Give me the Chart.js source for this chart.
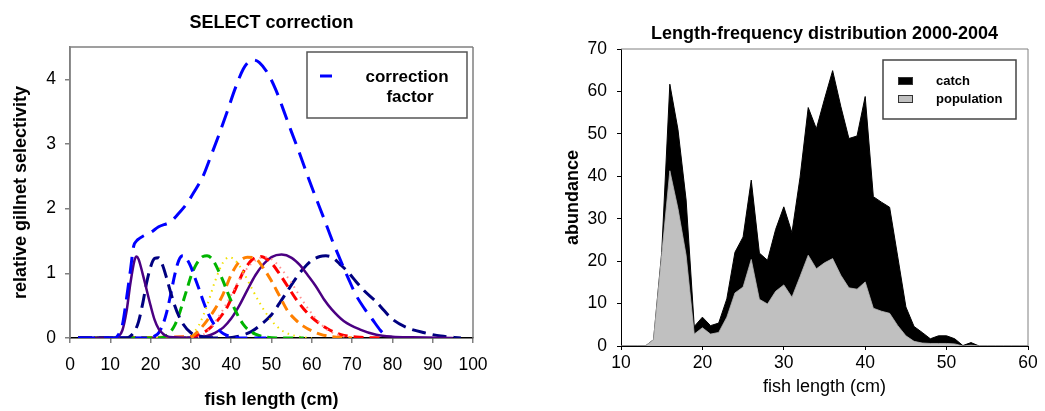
<!DOCTYPE html>
<html>
<head>
<meta charset="utf-8">
<script src="https://cdn.jsdelivr.net/npm/chart.js@4.4.0/dist/chart.umd.min.js"></script>
<style>
  html, body { margin: 0; padding: 0; background: #fff; }
  #wrap { position: relative; width: 1045px; height: 411px; }
  #selectChart { position: absolute; left: 0; top: 0; }
  #lengthChart { position: absolute; left: 520px; top: 0; }
</style>
</head>
<body>
<div id="wrap">
  <canvas id="selectChart" width="520" height="411"></canvas>
  <canvas id="lengthChart" width="525" height="411"></canvas>
</div>
<script>
// ---- left panel: selectivity curves ----
const corrLen = [2, 11, 12, 13, 14, 15, 15.8, 16.5, 17, 18, 20, 22, 25, 27, 29, 31, 33, 35, 37, 39, 41, 43, 44.5, 45.5, 47, 49, 51, 53, 55, 57, 59, 61, 63, 65, 67, 69, 71, 73, 75, 77, 78.8];
const corrVal = [0, 0, 0.05, 0.2, 0.6, 1.05, 1.42, 1.5, 1.53, 1.57, 1.63, 1.72, 1.8, 1.93, 2.08, 2.28, 2.5, 2.82, 3.15, 3.5, 3.86, 4.16, 4.28, 4.3, 4.26, 4.1, 3.85, 3.52, 3.18, 2.85, 2.5, 2.17, 1.85, 1.52, 1.22, 0.93, 0.66, 0.46, 0.29, 0.12, 0];

const purpleALen = [2, 11, 12, 13, 14, 15, 16, 16.5, 17, 18, 19, 20, 21, 22, 23, 24, 26, 30];
const purpleAVal = [0, 0, 0.02, 0.12, 0.4, 0.85, 1.2, 1.26, 1.22, 1.0, 0.75, 0.5, 0.28, 0.14, 0.07, 0.03, 0.01, 0];

const navyALen = [2, 14, 15, 16, 17, 18, 19, 20, 21, 22, 23, 24, 25, 26, 27, 28, 30, 33, 36];
const navyAVal = [0, 0, 0.03, 0.1, 0.25, 0.52, 0.85, 1.1, 1.23, 1.24, 1.12, 0.92, 0.7, 0.5, 0.34, 0.22, 0.08, 0.02, 0];

const blueLen = [2, 20, 21, 22, 23, 24, 25, 26, 27, 28, 29, 30, 31, 32, 33, 34, 35, 36, 37, 38, 40, 44, 49];
const blueVal = [0, 0, 0.03, 0.08, 0.2, 0.4, 0.68, 0.98, 1.2, 1.27, 1.22, 1.1, 0.93, 0.76, 0.58, 0.42, 0.29, 0.19, 0.12, 0.07, 0.02, 0, 0];

const greenLen = [2, 22, 24, 25, 26, 27, 28, 29, 30, 31, 32, 33, 34, 35, 36, 37, 38, 39, 40, 41, 42, 43, 44, 46, 48, 52, 58];
const greenVal = [0, 0, 0.04, 0.1, 0.2, 0.35, 0.55, 0.75, 0.95, 1.1, 1.2, 1.26, 1.27, 1.24, 1.15, 1.02, 0.88, 0.72, 0.57, 0.43, 0.31, 0.21, 0.14, 0.06, 0.02, 0, 0];

const yellowLen = [2, 28, 30, 32, 34, 36, 38, 39.5, 41, 43, 45, 47, 49, 51, 53, 56, 60];
const yellowVal = [0, 0, 0.05, 0.2, 0.5, 0.88, 1.17, 1.25, 1.2, 1.02, 0.78, 0.55, 0.35, 0.2, 0.1, 0.03, 0];

const orangeLen = [2, 30, 32, 34, 36, 38, 40, 42, 44, 46, 48, 50, 52, 54, 56, 58, 60, 62, 65, 70];
const orangeVal = [0, 0.02, 0.12, 0.27, 0.45, 0.68, 0.98, 1.18, 1.25, 1.23, 1.08, 0.88, 0.65, 0.42, 0.28, 0.18, 0.11, 0.06, 0.02, 0];

const pinkLen = [2, 30, 33, 36, 39, 42, 45, 48, 50, 52, 55, 58, 61, 64, 67, 70];
const pinkVal = [0, 0, 0.05, 0.25, 0.55, 0.9, 1.15, 1.25, 1.22, 1.1, 0.85, 0.55, 0.3, 0.12, 0.04, 0];

const redLen = [2, 30, 33, 35, 37, 39, 41, 43, 45, 47, 48, 50, 52, 54, 56, 58, 60, 62, 64, 66, 68, 72, 78];
const redVal = [0, 0.02, 0.08, 0.17, 0.3, 0.48, 0.75, 1.02, 1.2, 1.26, 1.25, 1.16, 0.99, 0.8, 0.61, 0.45, 0.32, 0.22, 0.14, 0.08, 0.04, 0.01, 0];

const purpleBLen = [2, 28, 32, 34, 36, 38, 40, 42, 44, 46, 48, 50, 52.5, 55, 57, 59, 61, 63, 65, 68, 72, 76, 80, 85, 95];
const purpleBVal = [0, 0, 0.01, 0.03, 0.08, 0.16, 0.3, 0.5, 0.74, 0.97, 1.14, 1.25, 1.29, 1.24, 1.13, 0.97, 0.8, 0.6, 0.44, 0.26, 0.13, 0.05, 0.02, 0.01, 0];

const navyBLen = [2, 38, 42, 45, 48, 50, 52, 54, 56, 58, 60, 62, 63.5, 65, 67, 69, 71, 73, 76, 78, 80, 84, 88, 92, 97];
const navyBVal = [0, 0, 0.03, 0.1, 0.24, 0.36, 0.54, 0.73, 0.92, 1.08, 1.2, 1.26, 1.27, 1.25, 1.14, 1.02, 0.87, 0.73, 0.56, 0.42, 0.29, 0.15, 0.08, 0.03, 0];

const selTicksX = [0, 10, 20, 30, 40, 50, 60, 70, 80, 90, 100];

// ---- right panel: length-frequency ----
const lengths = [10, 11, 12, 13, 14, 15, 16, 17, 18, 19, 20, 21, 22, 23, 24, 25, 26, 27, 28, 29, 30,
  31, 32, 33, 34, 35, 36, 37, 38, 39, 40, 41, 42, 43, 44, 45, 46, 47, 48, 49, 50,
  51, 52, 53, 54, 55, 56, 57, 58, 59, 60];
const catchVals = [0, 0, 0, 0, 1.5, 22, 61.7, 51, 34.4, 4.6, 6.8, 4.8, 5.4, 11.1, 22.1, 25.7, 39.1, 21.9, 20.2, 27.5, 32.8,
  26.7, 39.8, 56.2, 51.2, 58.2, 64.9, 56.5, 48.9, 49.5, 58.8, 35.2, 33.9, 32.7, 21.0, 9.2, 4.6, 3.2, 1.7, 2.4, 2.4,
  1.7, 0.1, 0.8, 0, 0, 0, 0, 0, 0, 0];
const popVals = [0, 0, 0, 0, 1.5, 21.4, 41.3, 32.4, 21.4, 2.8, 4.3, 2.8, 3.2, 6.8, 12.5, 13.9, 20.4, 11.0, 9.9, 12.9, 14.4,
  11.5, 16.4, 21.4, 18.2, 19.6, 20.6, 16.7, 13.7, 13.4, 15.1, 8.9, 8.2, 7.7, 4.8, 2.4, 1.1, 0.7, 0.6, 0.6, 0.6,
  0.5, 0, 0.2, 0, 0, 0, 0, 0, 0, 0];

const FONT = '"Liberation Sans", Arial, sans-serif';
Chart.defaults.font.family = FONT;
Chart.defaults.color = '#000';

function pts(xs, ys) {
  return xs.map((x, i) => ({ x: x, y: ys[i] }));
}

// frame lines around the plot (gray box like the original)
const framePlugin = {
  id: 'frame',
  afterDraw(chart, args, opts) {
    const { ctx, chartArea: a } = chart;
    ctx.save();
    ctx.strokeStyle = opts.color || '#808080';
    ctx.lineWidth = opts.width || 1;
    ctx.beginPath();
    (opts.sides || []).forEach(s => {
      if (s === 'top') { ctx.moveTo(a.left, a.top); ctx.lineTo(a.right, a.top); }
      if (s === 'right') { ctx.moveTo(a.right, a.top); ctx.lineTo(a.right, a.bottom); }
      if (s === 'left') { ctx.moveTo(a.left, a.top); ctx.lineTo(a.left, a.bottom); }
    });
    ctx.stroke();
    ctx.restore();
  }
};

const corrLegend = {
  id: 'corrLegend',
  afterDraw(chart) {
    const ctx = chart.ctx;
    const ds = chart.data.datasets[0];
    ctx.save();
    ctx.strokeStyle = '#555';
    ctx.lineWidth = 1.5;
    ctx.strokeRect(307, 52, 160, 66);
    ctx.strokeStyle = ds.borderColor;
    ctx.lineWidth = 3;
    ctx.beginPath();
    ctx.moveTo(320, 76);
    ctx.lineTo(332, 76);
    ctx.stroke();
    ctx.fillStyle = '#000';
    ctx.font = 'bold 17px ' + FONT;
    ctx.textAlign = 'center';
    ctx.textBaseline = 'middle';
    ctx.fillText(ds.label[0], 407, 77);
    ctx.fillText(ds.label[1], 410, 97);
    ctx.restore();
  }
};

const lfLegend = {
  id: 'lfLegend',
  afterDraw(chart) {
    const ctx = chart.ctx;
    ctx.save();
    ctx.strokeStyle = '#444';
    ctx.lineWidth = 1.5;
    ctx.strokeRect(363, 60, 133, 59);
    ctx.font = 'bold 13px ' + FONT;
    ctx.textBaseline = 'middle';
    ctx.textAlign = 'left';
    chart.data.datasets.forEach((ds, i) => {
      const y = 81 + i * 18;
      ctx.fillStyle = ds.backgroundColor;
      ctx.fillRect(378, y - 4, 15, 8);
      ctx.strokeStyle = '#333';
      ctx.lineWidth = 1;
      ctx.strokeRect(378.5, y - 3.5, 14, 7);
      ctx.fillStyle = '#000';
      ctx.fillText(ds.label, 416, y);
    });
    ctx.restore();
  }
};

const curves = [
  { label: ['correction', 'factor'], xs: corrLen, ys: corrVal, color: '#0000ff', width: 3, dash: [17, 9] },
  { label: 'mesh 1', xs: purpleALen, ys: purpleAVal, color: '#4b0082', width: 2.5, dash: [] },
  { label: 'mesh 2', xs: navyALen, ys: navyAVal, color: '#000080', width: 3, dash: [14, 7] },
  { label: 'mesh 3', xs: blueLen, ys: blueVal, color: '#0000ff', width: 3, dash: [12, 7] },
  { label: 'mesh 4', xs: greenLen, ys: greenVal, color: '#00b400', width: 3, dash: [10, 6] },
  { label: 'mesh 5', xs: yellowLen, ys: yellowVal, color: '#f0e000', width: 2, dash: [1.5, 4.5] },
  { label: 'mesh 6', xs: orangeLen, ys: orangeVal, color: '#ff8000', width: 3, dash: [10, 6] },
  { label: 'mesh 7', xs: pinkLen, ys: pinkVal, color: '#ff9090', width: 2, dash: [1.5, 4.5] },
  { label: 'mesh 8', xs: redLen, ys: redVal, color: '#ff0000', width: 3, dash: [10, 6] },
  { label: 'mesh 9', xs: purpleBLen, ys: purpleBVal, color: '#4b0082', width: 2.5, dash: [] },
  { label: 'mesh 10', xs: navyBLen, ys: navyBVal, color: '#000080', width: 3, dash: [14, 7] }
];

new Chart(document.getElementById('selectChart'), {
  type: 'line',
  data: {
    datasets: curves.map(c => ({
      label: c.label,
      data: pts(c.xs, c.ys),
      borderColor: c.color,
      borderWidth: c.width,
      borderDash: c.dash,
      pointRadius: 0,
      cubicInterpolationMode: 'monotone',
      fill: false
    }))
  },
  options: {
    responsive: false,
    animation: false,
    devicePixelRatio: 1,
    layout: { padding: { left: 0, right: 47, top: 0, bottom: 0 } },
    plugins: {
      legend: { display: false },
      tooltip: { enabled: false },
      title: {
        display: true,
        text: 'SELECT correction',
        fullSize: false,
        font: { size: 18, weight: 'bold', lineHeight: 1.2 },
        color: '#000',
        padding: { top: 12.7, bottom: 12.7 }
      },
      frame: { sides: ['top', 'right', 'left'], color: '#808080', width: 1.5 }
    },
    scales: {
      x: {
        type: 'linear',
        min: 0,
        max: 100,
        afterBuildTicks: s => { s.ticks = selTicksX.map(v => ({ value: v })); },
        afterFit: s => { s.height = 73; },
        ticks: { font: { size: 17.5 }, color: '#000', padding: 12, maxRotation: 0 },
        grid: { drawOnChartArea: false, drawTicks: true, tickLength: 5, color: '#808080', lineWidth: 1.5 },
        border: { display: true, color: '#000', width: 1.5 },
        title: { display: true, text: 'fish length (cm)', font: { size: 18, weight: 'bold', lineHeight: 1.2 }, padding: { top: 0, bottom: 0 } }
      },
      y: {
        min: 0,
        max: 4.5,
        ticks: { stepSize: 1, font: { size: 17.5 }, color: '#000', padding: 9 },
        afterBuildTicks: s => { s.ticks = s.ticks.filter(t => Number.isInteger(t.value)); },
        afterFit: s => { s.width = 70; },
        grid: { drawOnChartArea: false, drawTicks: true, tickLength: 5, color: '#808080', lineWidth: 1.5 },
        border: { display: true, color: '#808080', width: 1.5 },
        title: { display: true, text: 'relative gillnet selectivity', font: { size: 18, weight: 'bold', lineHeight: 1.2 }, padding: { top: 10.5, bottom: 0 } }
      }
    }
  },
  plugins: [framePlugin, corrLegend]
});

new Chart(document.getElementById('lengthChart'), {
  type: 'line',
  data: {
    datasets: [
      {
        label: 'catch',
        data: pts(lengths, catchVals),
        backgroundColor: '#000000',
        borderColor: '#000000',
        borderWidth: 1,
        pointRadius: 0,
        tension: 0,
        fill: 'origin',
        order: 1
      },
      {
        label: 'population',
        data: pts(lengths, popVals),
        backgroundColor: '#c0c0c0',
        borderColor: '#b8b8b8',
        borderWidth: 0.8,
        pointRadius: 0,
        tension: 0,
        fill: 'origin',
        order: 0
      }
    ]
  },
  options: {
    responsive: false,
    animation: false,
    devicePixelRatio: 1,
    layout: { padding: { left: 0, right: 17, top: 0, bottom: 0 } },
    plugins: {
      legend: { display: false },
      tooltip: { enabled: false },
      title: {
        display: true,
        text: 'Length-frequency distribution 2000-2004',
        fullSize: false,
        font: { size: 18, weight: 'bold', lineHeight: 1.2 },
        color: '#000',
        padding: { top: 23, bottom: 4.4 }
      },
      frame: { sides: ['top', 'right'], color: '#808080', width: 1 }
    },
    scales: {
      x: {
        type: 'linear',
        min: 10,
        max: 60,
        ticks: { stepSize: 10, font: { size: 17.5 }, color: '#000', padding: 3, maxRotation: 0 },
        afterFit: s => { s.height = 65; },
        grid: { drawOnChartArea: false, drawTicks: true, tickLength: 4, color: '#000', lineWidth: 1 },
        border: { display: true, color: '#000', width: 1 },
        title: { display: true, text: 'fish length (cm)', font: { size: 18, lineHeight: 1.2 }, padding: { top: 0, bottom: 13 } }
      },
      y: {
        min: 0,
        max: 70,
        ticks: { stepSize: 10, font: { size: 17.5 }, color: '#000', padding: 10 },
        afterFit: s => { s.width = 101; },
        grid: { drawOnChartArea: false, drawTicks: true, tickLength: 4, color: '#000', lineWidth: 1 },
        border: { display: true, color: '#000', width: 1 },
        title: { display: true, text: 'abundance', font: { size: 18, weight: 'bold', lineHeight: 1.2 }, padding: { top: 42.2, bottom: 0 } }
      }
    }
  },
  plugins: [framePlugin, lfLegend]
});
</script>
</body>
</html>
